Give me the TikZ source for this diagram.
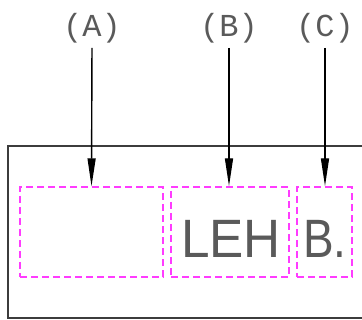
\documentclass[tikz,border=0pt]{standalone}
\usepackage{fontspec}
\setmonofont{Liberation Mono}
\setsansfont{Liberation Sans}
\usetikzlibrary{arrows.meta}
\definecolor{frame}{RGB}{60,60,60}
\definecolor{ink}{RGB}{90,90,90}
\definecolor{field}{RGB}{255,60,255}
\tikzset{
  callout/.style={font=\ttfamily\fontsize{32}{32}\selectfont, text=ink, inner sep=0pt, anchor=base},
  fieldbox/.style={draw=field, line width=1.4pt, dash pattern=on 7pt off 4pt, minimum height=90pt, inner sep=0pt},
  fieldtext/.style={font=\sffamily\fontsize{54}{54}\selectfont, text=ink, inner sep=0pt, anchor=base},
  pointer/.style={draw=black, line width=1.4pt, -{Triangle[length=28pt,width=8pt]}, shorten <=4pt},
}
\begin{document}
\begin{tikzpicture}[x=1pt,y=-1pt]
  \useasboundingbox (0,0) rectangle (362,320);
  % outer frame, running off the right edge
  \draw[frame, line width=1.5pt] (370,146) -- (8,146) -- (8,318) -- (370,318);
  % dashed fields
  \node[fieldbox, minimum width=143pt] (ba) at (91.5,232) {};
  \node[fieldbox, minimum width=118pt] (bb) at (230,232) {};
  \node[fieldbox, minimum width=55pt] (bc) at (324.5,232) {};
  \node[fieldtext, xscale=0.95] (tb) at (231,258) {LEH};
  \node[fieldtext, xscale=0.85] (tc) at (325,258) {B.};
  % callout labels
  \node[callout] (la) at (92,37) {(A)};
  \node[callout] (lb) at (229,37) {(B)};
  \node[callout] (lc) at (325,37) {(C)};
  % pointers
  \draw[pointer] (la.south) -- (ba.north);
  \draw[pointer] (lb.south) -- (lb.south |- bb.north);
  \draw[pointer] (lc.south) -- (lc.south |- bc.north);
\end{tikzpicture}
\end{document}
